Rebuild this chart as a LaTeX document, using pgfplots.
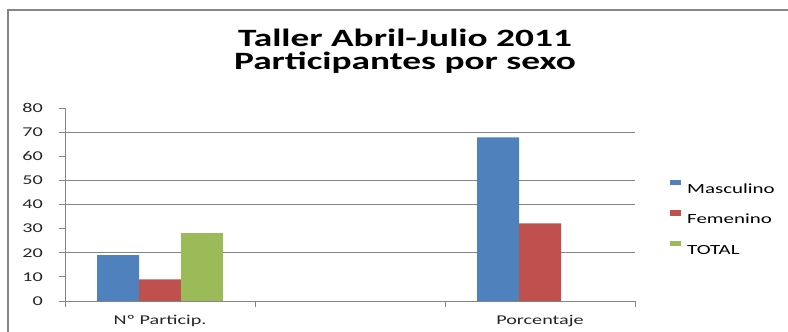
\documentclass[border=0pt]{standalone}
\usepackage{fontspec}
\setmainfont{Carlito}[FakeStretch=1.5]
\usepackage{pgfplots}
\pgfplotsset{compat=1.18}
\definecolor{cblue}{HTML}{4F81BD}
\definecolor{cred}{HTML}{C0504D}
\definecolor{cgreen}{HTML}{9BBB59}
\definecolor{cgrid}{HTML}{868686}
\pgfplotsset{sq/.style={legend image code/.code={\fill[##1] (0bp,3bp) rectangle (11bp,8.5bp);}}}
\begin{document}
\begin{tikzpicture}
\path[use as bounding box] (0,0) rectangle (788bp,-332bp);
\draw[cgrid, line width=1.2bp] (8bp,-332bp) -- (8bp,-10bp) -- (788bp,-10bp);
\node[anchor=base, align=center, font=\fontsize{25}{23}\selectfont\bfseries] at (405bp,-69bp) {Taller Abril-Julio 2011\\Participantes por sexo};
\begin{axis}[
  at={(65bp,-301bp)}, anchor=south west,
  scale only axis, width=570bp, height=193bp,
  xmin=-0.5, xmax=2.5, ymin=0, ymax=80,
  ybar=0pt, bar width=42bp,
  ytick={0,10,...,80},
  xtick={-0.5,0.5,1.5,2.5}, xticklabels={},
  extra x ticks={0,2}, extra x tick labels={Nº Particip.,Porcentaje},
  extra x tick style={major tick length=0pt},
  extra y ticks={20,40,50,70}, extra y tick labels={},
  extra y tick style={ymajorgrids=true},
  axis lines*=left, tick align=outside, major tick length=6bp,
  axis line style={cgrid, line width=1bp},
  tick style={cgrid, line width=1bp},
  major grid style={cgrid, line width=1bp},
  /pgf/number format/assume math mode=true,
  tick label style={font=\fontsize{13.5}{15}\selectfont, text=black!85},
  yticklabel style={inner sep=0pt, anchor=east, xshift=-16bp},
  xticklabel style={inner sep=0pt, anchor=base, yshift=-23bp},
  legend style={draw=none, fill=none, at={(1.0614,0.63)}, anchor=north west,
    inner sep=0pt, row sep=17bp, column sep=6bp,
    font=\fontsize{14}{16}\selectfont,
    nodes={inner sep=0pt, text height=10bp, text depth=0bp}},
  legend cell align=left,
]
\addplot[fill=cblue, draw=none, sq] coordinates {(0,19) (2,67.86)};
\addplot[fill=cred, draw=none, sq] coordinates {(0,9) (2,32.14)};
\addplot[fill=cgreen, draw=none, sq] coordinates {(0,28)};
\legend{Masculino,Femenino,TOTAL}
\end{axis}
\end{tikzpicture}
\end{document}
